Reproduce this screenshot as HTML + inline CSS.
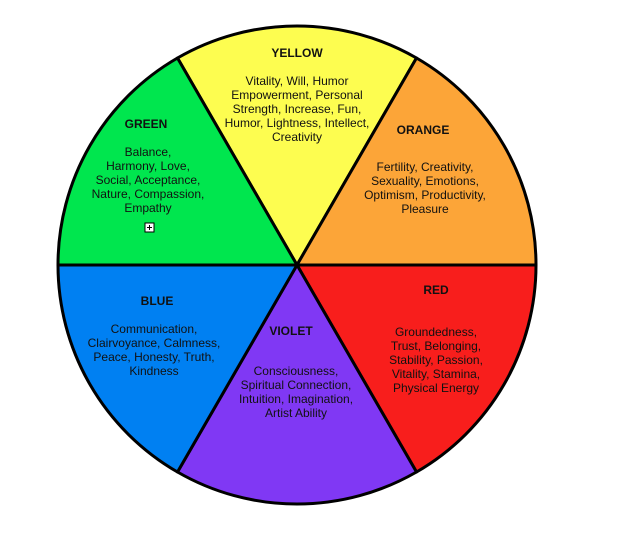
<!DOCTYPE html>
<html><head><meta charset="utf-8"><style>
html,body{margin:0;padding:0;background:#fff;}
svg{display:block;}
text{font-family:"Liberation Sans",Arial,sans-serif;font-size:12px;fill:#111;text-anchor:middle;}
.h{font-weight:bold;font-size:12px;}
</style></head><body>
<svg width="628" height="545" viewBox="0 0 628 545">
<g stroke="#000" stroke-width="3" stroke-linejoin="round">
<path d="M297,265 L177.5,58 A239,239 0 0 1 416.5,58 Z" fill="#fdfd50"/>
<path d="M297,265 L416.5,58 A239,239 0 0 1 536,265 Z" fill="#fca538"/>
<path d="M297,265 L536,265 A239,239 0 0 1 416.5,472 Z" fill="#f81e1c"/>
<path d="M297,265 L416.5,472 A239,239 0 0 1 177.5,472 Z" fill="#8038f4"/>
<path d="M297,265 L177.5,472 A239,239 0 0 1 58,265 Z" fill="#0080f2"/>
<path d="M297,265 L58,265 A239,239 0 0 1 177.5,58 Z" fill="#00e64e"/>
</g>
<text class="h" x="297" y="57">YELLOW</text>
<text x="297" y="85">Vitality, Will, Humor</text>
<text x="297" y="99">Empowerment, Personal</text>
<text x="297" y="113">Strength, Increase, Fun,</text>
<text x="297" y="127">Humor, Lightness, Intellect,</text>
<text x="297" y="141">Creativity</text>
<text class="h" x="146" y="128">GREEN</text>
<text x="148" y="156">Balance,</text>
<text x="148" y="170">Harmony, Love,</text>
<text x="148" y="184">Social, Acceptance,</text>
<text x="148" y="198">Nature, Compassion,</text>
<text x="148" y="212">Empathy</text>
<rect x="145" y="223" width="9" height="9" fill="#fff" stroke="#000" stroke-width="1"/>
<path d="M149.5,225 V230 M147,227.5 H152" stroke="#000" stroke-width="1"/>
<text class="h" x="423" y="134">ORANGE</text>
<text x="425" y="171">Fertility, Creativity,</text>
<text x="425" y="185">Sexuality, Emotions,</text>
<text x="425" y="199">Optimism, Productivity,</text>
<text x="425" y="213">Pleasure</text>
<text class="h" x="157" y="305">BLUE</text>
<text x="154" y="333">Communication,</text>
<text x="154" y="347">Clairvoyance, Calmness,</text>
<text x="154" y="361">Peace, Honesty, Truth,</text>
<text x="154" y="375">Kindness</text>
<text class="h" x="291" y="335">VIOLET</text>
<text x="296" y="375">Consciousness,</text>
<text x="296" y="389">Spiritual Connection,</text>
<text x="296" y="403">Intuition, Imagination,</text>
<text x="296" y="417">Artist Ability</text>
<text class="h" x="436" y="294">RED</text>
<text x="436" y="336">Groundedness,</text>
<text x="436" y="350">Trust, Belonging,</text>
<text x="436" y="364">Stability, Passion,</text>
<text x="436" y="378">Vitality, Stamina,</text>
<text x="436" y="392">Physical Energy</text>
</svg>
</body></html>
